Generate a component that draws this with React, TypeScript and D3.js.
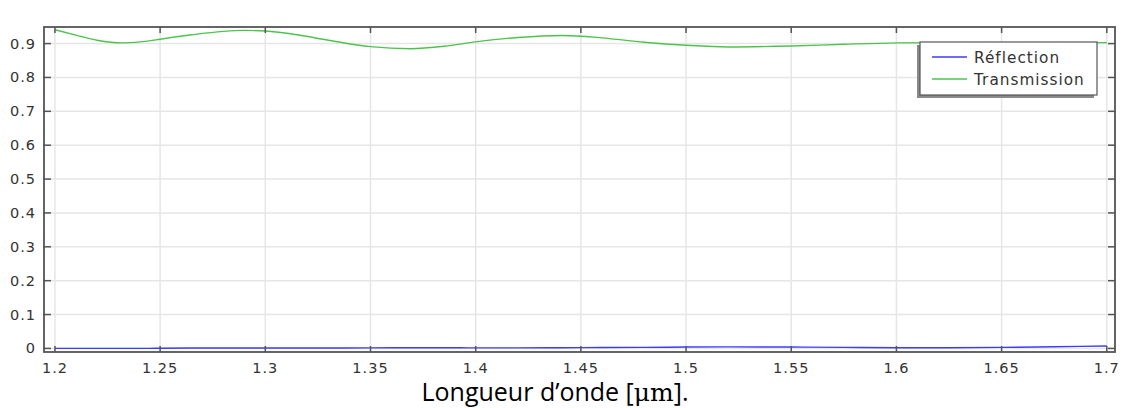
import React from "react";
import * as d3 from "d3";

const wavelength = [1.2, 1.21, 1.22, 1.232, 1.245, 1.25, 1.265, 1.28, 1.29, 1.3, 1.315, 1.33, 1.35, 1.369, 1.385, 1.4, 1.42, 1.441, 1.46, 1.48, 1.5, 1.52, 1.55, 1.575, 1.6, 1.625, 1.65, 1.675, 1.7];
const transmission = [0.941, 0.925, 0.91, 0.902, 0.908, 0.913, 0.926, 0.936, 0.939, 0.937, 0.926, 0.91, 0.891, 0.885, 0.892, 0.905, 0.918, 0.924, 0.917, 0.904, 0.895, 0.89, 0.893, 0.898, 0.902, 0.903, 0.903, 0.902, 0.903];
const reflection = [0.0, 0.0, 0.0, 0.0, 0.0, 0.0005, 0.001, 0.001, 0.001, 0.001, 0.001, 0.001, 0.0015, 0.002, 0.002, 0.0015, 0.0015, 0.002, 0.0025, 0.003, 0.004, 0.0045, 0.004, 0.003, 0.002, 0.002, 0.003, 0.005, 0.007];
const xTicks = [1.2, 1.25, 1.3, 1.35, 1.4, 1.45, 1.5, 1.55, 1.6, 1.65, 1.7];
const xTickLabels = ["1.2", "1.25", "1.3", "1.35", "1.4", "1.45", "1.5", "1.55", "1.6", "1.65", "1.7"];
const yTicks = [0, 0.1, 0.2, 0.3, 0.4, 0.5, 0.6, 0.7, 0.8, 0.9];
const yTickLabels = ["0", "0.1", "0.2", "0.3", "0.4", "0.5", "0.6", "0.7", "0.8", "0.9"];
const seriesNames = ["Réflection", "Transmission"];
const seriesColors = ["#3b3bff", "#4cc44c"];
const xLabel = "Longueur d’onde [";
const xLabelUnit = "μm";
const xLabelEnd = "].";

export default function App() {
  const W = 1122, H = 408;
  const left = 44, right = 1115, top = 27, bottom = 352;
  const x = d3.scaleLinear().domain([1.1948, 1.7039]).range([left, right]);
  const y = d3.scaleLinear().domain([-0.0106, 0.949]).range([bottom, top]);
  const line = d3
    .line<number>()
    .x((_, i) => x(wavelength[i]))
    .curve(d3.curveMonotoneX);
  const tPath = line.y((v) => y(v))(transmission) || "";
  const rPath = line.y((v) => y(v))(reflection) || "";
  const tickFont = { fontFamily: "DejaVu Sans", fontSize: 14.5, letterSpacing: 1, fill: "#333" };
  const frame = "#555";
  return (
    <svg width={W} height={H} style={{ position: "absolute", left: 0, top: 0, background: "#fff" }}>
      <defs>
        <clipPath id="pc">
          <rect x={left} y={top} width={right - left} height={bottom - top} />
        </clipPath>
      </defs>
      {xTicks.map((t) => (
        <line key={"gx" + t} x1={x(t)} x2={x(t)} y1={top} y2={bottom} stroke="#e6e6e6" strokeWidth={1.5} />
      ))}
      {yTicks.map((t) => (
        <line key={"gy" + t} x1={left} x2={right} y1={y(t)} y2={y(t)} stroke="#e6e6e6" strokeWidth={1.5} />
      ))}
      <g clipPath="url(#pc)">
        <path d={rPath} fill="none" stroke={seriesColors[0]} strokeWidth={1.4} />
        <path d={tPath} fill="none" stroke={seriesColors[1]} strokeWidth={1.4} />
      </g>
      {xTicks.map((t) => (
        <g key={"tx" + t}>
          <line x1={x(t)} x2={x(t)} y1={bottom} y2={bottom - 6} stroke={frame} strokeWidth={1.5} />
          <line x1={x(t)} x2={x(t)} y1={top} y2={top + 6} stroke={frame} strokeWidth={1.5} />
        </g>
      ))}
      {yTicks.map((t) => (
        <g key={"ty" + t}>
          <line x1={left - 1} x2={left + 7} y1={y(t)} y2={y(t)} stroke={frame} strokeWidth={1.5} />
          <line x1={right} x2={right - 7} y1={y(t)} y2={y(t)} stroke={frame} strokeWidth={1.5} />
        </g>
      ))}
      <rect x={left} y={top} width={right - left} height={bottom - top} fill="none" stroke={frame} strokeWidth={1.8} />
      {xTicks.map((t, i) => (
        <text key={"lx" + t} x={x(t)} y={bottom + 21} textAnchor="middle" {...tickFont}>
          {xTickLabels[i]}
        </text>
      ))}
      {yTicks.map((t, i) => (
        <text key={"ly" + t} x={left - 8} y={y(t) + 5} textAnchor="end" {...tickFont}>
          {yTickLabels[i]}
        </text>
      ))}
      <g>
        <rect x={917} y={45} width={177} height={53} fill="#8a8a8a" />
        <rect x={920} y={42} width={177} height={53} fill="#fff" stroke={frame} strokeWidth={1.2} />
        {seriesNames.map((n, i) => (
          <g key={n}>
            <line x1={932} x2={967} y1={57 + i * 22} y2={57 + i * 22} stroke={seriesColors[i]} strokeWidth={1.6} />
            <text x={974} y={62.5 + i * 22} fontFamily="DejaVu Sans" fontSize={15.3} letterSpacing={1} fill="#333">
              {n}
            </text>
          </g>
        ))}
      </g>
      <text x={555} y={401} textAnchor="middle" fontFamily="Open Sans" fontSize={25} fill="#000">
        {xLabel}
        <tspan fontFamily="DejaVu Serif">{xLabelUnit}</tspan>
        {xLabelEnd}
      </text>
    </svg>
  );
}
